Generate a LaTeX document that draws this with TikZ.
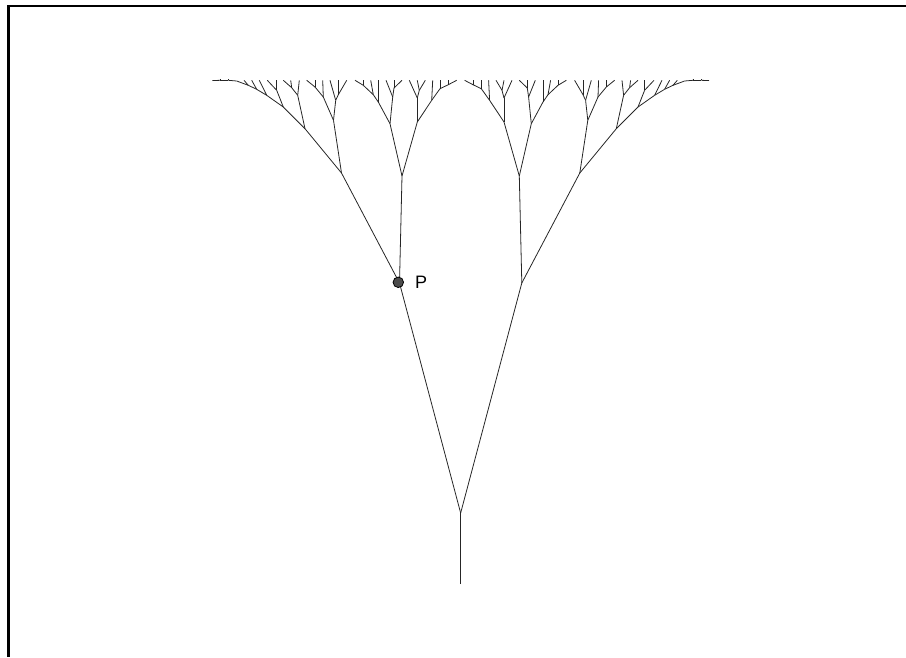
\documentclass[tikz,border=0pt]{standalone}
\usepackage{fontspec}
\setmainfont{Liberation Sans}
\usetikzlibrary{positioning}

% one half of the tree, measured by hand; #1 prefixes the coordinate names
\newcommand{\halftree}[1]{
    \coordinate (#1root) at (460.65,513);
    \foreach \br/\up/\px/\py in {
        l/root/399.5/283,
        ll/l/341.5/173, lr/l/402/176,
        lll/ll/305/128.7, llr/ll/333.5/120.3,
        llll/lll/283.3/107, lllr/lll/297.7/95.3,
        lB/llll/266.7/95.3, llllr/llll/276.7/90.3,
        lC/lB/256.7/89.3, lBr/lB/259.3/80.3,
        lD/lC/248.3/85.3, lCr/lC/251.7/80.3,
        lE/lD/236.7/81, lDr/lD/244/80.3,
        lF/lE/228.3/80.3,
        lG/lF/220/80.3, lFr/lF/228.3/79.3,
        lH/lG/212.3/80.6, lGr/lG/220/79.3,
        llllra/llllr/267.3/80.3, llllrb/llllr/276.7/80.3,
        lllra/lllr/291.7/87.7, lllrb/lllr/299.3/80.3,
        lllraa/lllra/283.3/80.3, lllrab/lllra/290.7/80.3,
        llrl/llr/323.3/97, llrr/llr/335.7/100.3,
        llrla/llrl/315/87, llrlb/llrl/322.7/80.3,
        llrlaa/llrla/306.7/80.3, llrlab/llrla/315/80.3,
        llrra/llrr/330/80.3, llrrb/llrr/338.3/94.7,
        llrrba/llrrb/338.3/80.3, llrrbb/llrrb/346.7/80.3,
        lrl/lr/390/123.7, lrr/lr/417.3/122,
        lrll/lrl/378.3/102, lrlr/lrl/392.7/97,
        lrlla/lrll/373.3/94.7, lrllb/lrll/378.3/80.3,
        lrllaa/lrlla/363.3/85.3, lrllab/lrlla/370.7/80.3,
        lrllaaa/lrllaa/355/80.3, lrllaab/lrllaa/363.3/80.3,
        lrlra/lrlr/386/80.3, lrlrb/lrlr/394/88,
        lrlrba/lrlrb/394/80.3, lrlrbb/lrlrb/402/80.3,
        lrrl/lrr/417.3/98, lrrr/lrr/431.7/100.3,
        lrrla/lrrl/409.3/80.3, lrrlb/lrrl/419.3/90.3,
        lrrlba/lrrlb/417.3/80.3, lrrlbb/lrrlb/425.3/80.3,
        lrrra/lrrr/432.7/80.3, lrrrb/lrrr/440/88.7,
        lrrrba/lrrrb/440/80.3, lrrrbb/lrrrb/448.3/84.7,
        lrrrbba/lrrrbb/448.3/80.3, lrrrbbb/lrrrbb/456.7/80.3%
    }{
        \coordinate (#1\br) at (\px,\py);
        \draw[branch] (#1\up) -- (#1\br);
    }
}

\begin{document}
\begin{tikzpicture}[
    x=1pt, y=-1pt,
    branch/.style={draw=black!85, line width=0.8pt},
    frameline/.style={draw=black, line width=2.6pt},
    dot/.style={circle, draw=black, line width=0.8pt, fill=black!70, minimum size=10.5pt, inner sep=0pt},
    tag/.style={inner sep=0pt, font=\fontsize{18}{18}\selectfont}
]
    \useasboundingbox (0,0) rectangle (906,657);

    % frame runs off the right and bottom of the page
    \draw[frameline] (906,6) -| (8.6,657);

    % both halves, the second one mirrored
    \begin{scope}
        \halftree{a}
    \end{scope}
    \begin{scope}[xshift=921.3pt, xscale=-1]
        \halftree{b}
    \end{scope}

    \coordinate (base) at (460.65,584);
    \draw[branch] (base) -- (aroot);

    \node[dot] (pointP) at (398.3,282.3) {};
    \node[tag, right=11pt of pointP] (labelP) {P};
\end{tikzpicture}
\end{document}
